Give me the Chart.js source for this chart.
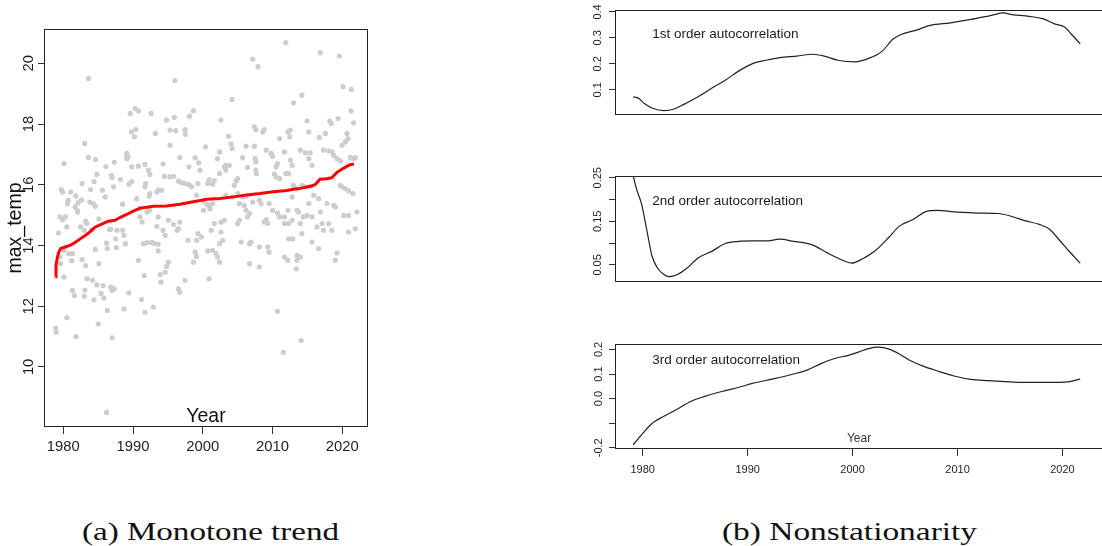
<!DOCTYPE html>
<html><head><meta charset="utf-8">
<script src="https://cdn.jsdelivr.net/npm/chart.js@4.4.1/dist/chart.umd.min.js"></script>
<style>
html,body{margin:0;padding:0;background:#fff;width:1102px;height:546px;overflow:hidden;position:relative;}
canvas{position:absolute;}
.cap{position:absolute;white-space:nowrap;font-family:"Liberation Serif","Times New Roman",serif;font-size:25px;line-height:30px;color:#111;transform-origin:0 50%;}
</style></head><body>
<canvas id="trend" width="380" height="470" style="left:0;top:0"></canvas>
<canvas id="ac1" width="560" height="125" style="left:560px;top:0"></canvas>
<canvas id="ac2" width="560" height="130" style="left:560px;top:160px"></canvas>
<canvas id="ac3" width="560" height="150" style="left:560px;top:335px"></canvas>
<div class="cap" id="capA" style="left:82px;top:517px">(a) Monotone trend</div>
<div class="cap" id="capB" style="left:722px;top:517px">(b) Nonstationarity</div>
<script>
// ---------- Panel (a): observations ----------
const obsYear = [
1983.6,1983.06,1983.6,1984.6,1980.1,1986.1,1987.3,1989.1,1989.1,1984.8,1982.7,1984.4,1986.9,1987.0,1988.2,1979.7,1979.9,1981.05,1981.8,1980.7,
1980.6,1982.1,1982.6,1983.9,1983.8,1984.3,1984.6,1986.0,1985.6,1987.2,1988.5,1982.0,1982.05,1979.5,1979.9,1980.3,1979.3,1980.5,1982.5,1983.2,
1983.4,1983.0,1984.1,1985.1,1986.6,1986.8,1987.7,1986.2,1987.5,1988.5,1988.7,1988.9,1984.6,1986.3,1987.6,1980.1,1980.8,1981.3,1979.5,1979.6,
1980.1,1982.7,1983.2,1985.1,1983.4,1984.2,1985.7,1986.8,1987.0,1987.3,1985.8,1981.3,1981.6,1983.0,1984.4,1986.3,1988.7,1980.5,1985.0,1978.9,
1979.0,1981.8,1987.0,1986.2,1981.7,1981.2,1983.1,1984.8,1985.4,
1996.0,1990.76,1990.3,1989.6,1992.6,1998.65,1998.1,1994.8,1995.9,1990.4,1989.8,1990.2,1993.2,1995.3,1996.1,1995.3,1997.45,1997.5,2000.4,1989.1,
1989.3,1989.8,1990.76,1991.7,1992.2,1992.4,1994.3,1996.7,1998.0,1998.9,1999.4,1999.6,1989.8,1989.4,1991.8,1991.7,1990.5,1993.6,1993.4,1994.1,
1992.4,1992.3,1994.5,1995.3,1995.8,1996.5,1997.0,1997.45,1998.0,1998.4,1999.1,1999.3,2000.1,2000.6,2000.1,1991.0,1991.0,1992.0,1992.2,1992.4,
1991.3,1993.6,1993.4,1995.06,1995.8,1996.3,1996.5,1996.7,1991.5,1992.0,1992.7,1993.1,1993.6,1994.3,1994.6,1997.9,1999.1,1999.3,1999.8,2000.7,
1998.9,1999.1,1998.65,1990.76,1993.6,1994.8,1995.06,1993.9,1994.0,1996.5,1996.7,1994.6,1997.45,1991.6,1989.4,1991.2,1991.7,1992.9,
2011.9,2007.15,2007.9,2004.2,2002.6,2007.4,2007.6,2008.8,2008.6,2011.0,2012.2,2003.7,2004.05,2004.2,2006.2,2007.4,2009.1,2009.8,2010.0,2011.7,
2002.4,2002.1,2005.7,2007.5,2007.6,2001.65,2001.4,2000.9,2000.7,2002.4,2003.1,2003.3,2003.8,2003.3,2005.0,2004.8,2004.5,2006.4,2007.6,2007.7,
2010.5,2010.7,2010.26,2010.5,2011.0,2011.9,2001.4,2000.9,2001.03,2003.3,2004.3,2005.0,2005.7,2006.2,2005.24,2005.95,2007.15,2006.2,2006.7,2006.4,
2008.1,2008.35,2009.5,2010.0,2010.7,2011.0,2011.7,2001.65,2002.6,2003.1,2005.0,2005.24,2008.8,2009.1,2009.3,2011.7,2012.2,2001.2,2002.6,2002.85,
2002.4,2005.5,2006.7,2006.9,2008.1,2009.3,2009.5,2001.4,2001.9,2002.1,2002.4,2006.7,2008.1,2011.7,2012.2,2000.9,2010.7,2011.55,
2016.85,2019.57,2020.1,2021.3,2014.2,2013.0,2021.25,2021.6,2014.94,2015.2,2018.2,2018.4,2019.4,2012.55,2012.45,2017.57,2016.7,2020.67,2020.8,2020.43,
2019.96,2012.55,2012.8,2012.3,2013.98,2014.7,2015.4,2015.2,2015.65,2017.3,2018.04,2018.5,2018.76,2019.24,2019.72,2021.15,2021.6,2021.87,2019.72,2019.96,
2020.43,2020.9,2021.5,2013.0,2013.5,2014.2,2014.7,2015.4,2015.9,2012.8,2013.5,2013.74,2015.2,2016.6,2017.8,2018.76,2019.0,2014.4,2014.94,2015.65,
2016.85,2018.04,2016.37,2017.1,2017.3,2018.5,2012.8,2012.3,2013.98,2014.2,2015.65,2020.2,2020.9,2020.9,2021.87,2012.3,2012.9,2016.6,2019.24,2019.0,
2013.5,2013.98,2013.5,2013.4,2022.1,2014.1
];
const obsTemp = [
19.5,17.36,16.9,16.83,16.7,16.6,16.74,17.0,16.86,16.34,16.04,16.1,16.31,16.24,16.17,15.84,15.76,15.76,15.63,15.49,
15.38,15.4,15.49,15.84,15.43,15.38,15.29,15.6,15.82,15.93,15.36,15.16,15.1,14.94,14.85,14.94,14.41,14.61,14.61,14.8,
14.72,14.5,14.52,14.88,14.53,14.53,14.5,14.08,14.22,14.5,14.33,14.06,13.87,13.9,13.93,13.84,13.73,13.73,13.62,13.4,
12.96,13.53,13.34,13.4,12.9,12.85,12.68,12.63,12.52,12.57,12.27,12.52,12.35,12.33,12.21,11.86,11.91,11.62,11.42,11.28,
11.14,11.0,10.96,8.5,15.27,13.5,12.53,12.7,12.42,
19.43,18.43,18.51,18.35,18.35,18.44,18.26,18.13,18.22,17.82,17.74,17.58,17.69,17.8,17.78,17.3,17.82,17.66,17.25,17.03,
16.92,16.59,16.61,16.67,16.48,16.34,16.68,16.89,16.59,16.89,16.72,16.48,16.1,16.02,16.04,15.93,15.54,15.82,15.76,15.82,
15.71,15.62,16.28,16.26,16.28,16.12,16.06,16.04,16.01,15.93,15.65,16.04,15.46,15.35,15.16,15.21,14.94,15.1,15.21,15.16,
14.77,14.94,14.63,14.83,14.69,14.5,14.55,14.77,14.06,14.09,14.1,14.06,14.04,14.5,14.33,14.17,14.17,14.39,14.28,13.82,
13.78,13.64,13.45,13.51,13.82,13.31,13.45,13.04,12.79,12.57,12.46,13.12,12.85,13.01,12.44,12.22,11.8,11.97,
20.68,20.13,19.89,18.81,18.13,17.91,17.82,17.82,17.74,17.52,17.74,17.6,17.34,17.19,17.27,17.27,17.14,17.03,16.94,17.08,
17.08,16.86,16.89,16.86,16.75,16.13,16.02,16.17,16.04,16.37,16.59,16.64,16.64,16.48,16.2,16.13,15.98,16.57,16.48,16.37,
16.59,16.7,16.35,16.26,16.2,16.37,15.38,15.32,15.21,15.65,15.6,15.71,15.6,15.62,15.38,15.32,15.43,15.16,15.05,14.94,
15.49,15.38,15.38,15.16,15.07,14.94,14.72,14.72,14.77,14.83,14.72,14.83,14.77,14.85,14.72,14.94,15.16,14.5,14.44,14.17,
14.06,14.11,14.06,14.11,13.95,13.95,13.78,13.84,13.73,13.62,13.45,13.4,13.29,13.62,13.51,12.9,11.83,10.48,
20.35,20.24,19.23,19.14,18.95,18.7,18.43,18.04,18.1,17.74,18.1,18.02,18.18,17.8,17.58,17.69,17.56,17.69,17.52,17.41,
17.3,16.81,16.64,16.37,17.14,17.05,17.05,16.86,16.64,17.14,17.12,17.08,16.97,16.86,16.79,16.9,16.86,16.89,15.98,15.93,
15.87,15.8,15.71,15.98,15.87,15.98,15.93,15.95,15.65,15.6,15.16,15.1,15.38,15.54,15.38,15.32,15.27,14.94,14.99,14.94,
15.1,14.72,14.61,14.72,14.5,14.5,14.83,14.72,14.72,14.39,14.11,14.99,14.99,14.44,14.55,14.22,14.22,13.9,13.75,13.51,
13.67,13.62,13.51,13.23,15.1,10.87
];
// monotone trend (red)
const trendYear = [1978.85,1978.95,1979.14,1979.33,1979.62,1980.24,1980.96,1981.67,1982.63,1983.59,1984.54,1985.5,1986.46,1987.41,1988.12,1989.08,1990.04,1990.99,1991.95,1992.9,1994.81,1996.73,1998.64,2000.55,2002.46,2004.37,2006.28,2008.2,2010.11,2012.02,2012.97,2013.93,2015.6,2016.08,2016.8,2017.75,2018.47,2019.19,2020.14,2021.1,2021.67];
const trendTemp = [12.97,13.35,13.6,13.77,13.9,13.95,14.0,14.1,14.25,14.4,14.6,14.7,14.8,14.83,14.92,15.02,15.13,15.23,15.26,15.29,15.3,15.36,15.44,15.52,15.55,15.6,15.66,15.71,15.77,15.81,15.85,15.88,15.96,16.0,16.18,16.2,16.23,16.4,16.54,16.66,16.68];
const yearTicks = [1980,1990,2000,2010,2020];
const tempTicks = [10,12,14,16,18,20];

// ---------- Panel (b): rolling autocorrelations ----------
const ac1Year = [1979.09,1979.58,1980.23,1980.88,1982.02,1982.99,1983.97,1985.27,1986.57,1987.87,1989.17,1990.47,1991.77,1993.07,1994.7,1996.16,1997.3,1998.6,2000.23,2001.53,2002.83,2003.8,2004.62,2006.08,2007.38,2009.33,2011.28,2013.24,2014.37,2015.19,2016.81,2018.11,2019.25,2020.23,2020.88,2021.69];
const ac1Value = [0.073,0.068,0.045,0.030,0.020,0.026,0.045,0.073,0.106,0.137,0.173,0.201,0.214,0.224,0.230,0.237,0.230,0.214,0.208,0.221,0.249,0.294,0.313,0.330,0.348,0.358,0.371,0.387,0.396,0.390,0.383,0.374,0.354,0.341,0.313,0.277];
const ac2Year = [1979.09,1979.41,1979.9,1980.23,1980.55,1980.88,1981.37,1982.02,1982.5,1983.32,1984.29,1985.27,1986.57,1987.87,1989.17,1990.47,1991.77,1993.07,1994.37,1996.16,1997.63,1998.93,1999.9,2000.88,2002.18,2003.48,2004.46,2005.76,2007.06,2008.03,2009.98,2011.93,2013.89,2015.19,2016.49,2017.79,2018.76,2019.74,2020.72,2021.69];
const ac2Value = [0.255,0.224,0.189,0.150,0.110,0.071,0.044,0.028,0.023,0.028,0.044,0.066,0.081,0.099,0.104,0.105,0.105,0.109,0.104,0.096,0.077,0.062,0.054,0.063,0.083,0.114,0.139,0.154,0.173,0.175,0.171,0.169,0.168,0.161,0.151,0.143,0.132,0.106,0.079,0.054];
const ac3Year = [1979.09,1979.41,1980.07,1980.88,1982.02,1983.32,1984.62,1985.92,1987.54,1989.17,1990.47,1992.42,1994.37,1995.67,1996.98,1998.28,1999.58,2000.55,2001.53,2002.34,2003.15,2004.13,2005.43,2006.73,2008.03,2009.66,2011.28,2012.91,2014.54,2016.16,2017.79,2019.41,2020.72,2021.69];
const ac3Value = [-0.188,-0.172,-0.138,-0.101,-0.072,-0.042,-0.011,0.009,0.029,0.046,0.062,0.080,0.100,0.116,0.142,0.163,0.176,0.189,0.203,0.209,0.205,0.189,0.156,0.132,0.113,0.092,0.078,0.073,0.069,0.066,0.066,0.066,0.069,0.080];
const ac1Ticks = [0.1,0.2,0.3,0.4];
const ac1Labelled = [0.1,0.2,0.3,0.4];
const ac2Ticks = [0.05,0.10,0.15,0.20,0.25];
const ac2Labelled = [0.05,0.15,0.25];
const ac3Ticks = [-0.2,-0.1,0.0,0.1,0.2];
const ac3Labelled = [-0.2,0.0,0.1,0.2];
const panelTitles = ['1st order autocorrelation','2nd order autocorrelation','3rd order autocorrelation'];

// ---------- helpers ----------
Chart.defaults.font.family = '"Liberation Sans", Arial, sans-serif';
const SANS = '"Liberation Sans", Arial, sans-serif';

const frameBox = {
  id: 'frameBox',
  afterDatasetsDraw(chart, args, opts) {
    const {ctx, chartArea: {left, top, right, bottom}} = chart;
    ctx.save();
    ctx.strokeStyle = opts.color || '#222';
    ctx.lineWidth = 1;
    const l = Math.round(left) + 0.5, t = Math.round(top) + 0.5;
    const r = Math.round(right) - 0.5, b = Math.round(bottom) - 0.5;
    ctx.strokeRect(l, t, r - l, b - t);
    ctx.restore();
  }
};
const panelLabel = {
  id: 'panelLabel',
  afterDatasetsDraw(chart, args, opts) {
    if (!opts || !opts.text) return;
    const ctx = chart.ctx;
    ctx.save();
    ctx.font = opts.size + 'px ' + SANS;
    ctx.fillStyle = opts.color || '#1a1a1a';
    ctx.textAlign = 'left';
    ctx.textBaseline = 'middle';
    ctx.fillText(opts.text, chart.scales.x.getPixelForValue(opts.x), chart.scales.y.getPixelForValue(opts.y));
    ctx.restore();
  }
};
const pts = (xs, ys) => xs.map((x, i) => ({x, y: ys[i]}));

// ---------- panel (a) ----------
new Chart(document.getElementById('trend'), {
  type: 'scatter',
  data: {datasets: [
    {data: pts(trendYear, trendTemp), showLine: true, borderColor: '#ff0000', borderWidth: 3, pointRadius: 0, tension: 0, fill: false},
    {data: pts(obsYear, obsTemp), showLine: false, pointRadius: 2.6, backgroundColor: '#cdcdcd', borderColor: '#cdcdcd', borderWidth: 0}
  ]},
  options: {
    responsive: false, animation: false, events: [],
    layout: {padding: {left: 0, top: 29, right: 12, bottom: 0}},
    plugins: {legend: {display: false}, tooltip: {enabled: false}, frameBox: {color: '#222'}},
    scales: {
      x: {
        type: 'linear', position: 'bottom', min: 1977.23, max: 2023.68,
        afterBuildTicks: s => { s.ticks = yearTicks.map(v => ({value: v})); },
        afterFit: s => { s.height = 43; },
        grid: {display: true, drawOnChartArea: false, drawTicks: true, tickLength: 7, color: '#333'},
        border: {display: false},
        ticks: {font: {size: 14.8}, color: '#1e1e1e', padding: 4, maxRotation: 0, autoSkip: false, callback: v => String(v)},
        title: {display: true, text: 'Year', font: {size: 19.5}, color: '#111', padding: {top: 0, bottom: 42}}
      },
      y: {
        type: 'linear', position: 'left', min: 8.02, max: 21.13,
        afterBuildTicks: s => { s.ticks = tempTicks.map(v => ({value: v})); },
        afterFit: s => { s.width = 44; },
        grid: {display: true, drawOnChartArea: false, drawTicks: true, tickLength: 6, color: '#333'},
        border: {display: false},
        ticks: {font: {size: 14.8}, color: '#1e1e1e', padding: 1, minRotation: 90, maxRotation: 90, crossAlign: 'center', autoSkip: false, callback: v => String(v)},
        title: {display: true, text: 'max_temp', font: {size: 19.5}, color: '#111', padding: {top: 4, bottom: 0}}
      }
    }
  },
  plugins: [frameBox]
});

// ---------- panel (b) ----------
function acChart(id, years, values, cfg) {
  new Chart(document.getElementById(id), {
    type: 'scatter',
    data: {datasets: [
      {data: pts(years, values), showLine: true, borderColor: '#222', borderWidth: 1.2, pointRadius: 0, cubicInterpolationMode: 'monotone', fill: false}
    ]},
    options: {
      responsive: false, animation: false, events: [],
      layout: {padding: {left: 0, top: cfg.padTop, right: 17, bottom: cfg.padBottom}},
      plugins: {legend: {display: false}, tooltip: {enabled: false}, frameBox: {color: '#222'},
        panelLabel: {text: cfg.label, x: 1980.9, y: cfg.labelY, size: 13.5, color: '#1a1a1a'}},
      scales: {
        x: {
          type: 'linear', position: 'bottom', min: 1977.36, max: 2023.86, display: cfg.showX,
          afterBuildTicks: s => { s.ticks = yearTicks.map(v => ({value: v})); },
          afterFit: s => { s.height = cfg.showX ? 36 : 0; },
          grid: {display: true, drawOnChartArea: false, drawTicks: true, tickLength: 7, color: '#333'},
          border: {display: false},
          ticks: {font: {size: 11}, color: '#1e1e1e', padding: 7, maxRotation: 0, autoSkip: false, callback: v => String(v)},
          title: {display: cfg.showX, text: 'Year', font: {size: 12}, color: '#333', padding: {top: 0, bottom: 39}}
        },
        y: {
          type: 'linear', position: 'left', min: cfg.min, max: cfg.max,
          afterBuildTicks: s => { s.ticks = cfg.ticks.map(v => ({value: v})); },
          afterFit: s => { s.width = 55; },
          grid: {display: true, drawOnChartArea: false, drawTicks: true, tickLength: 6, color: '#333'},
          border: {display: false},
          ticks: {font: {size: 11}, color: '#1e1e1e', padding: cfg.tickPad, minRotation: 90, maxRotation: 90, crossAlign: 'center', autoSkip: false,
            callback: v => cfg.labelled.some(l => Math.abs(l - v) < 1e-9) ? v.toFixed(cfg.digits) : ''}
        }
      }
    },
    plugins: [frameBox, panelLabel]
  });
}
acChart('ac1', ac1Year, ac1Value, {padTop: 8, padBottom: 10, showX: false, min: 0.003, max: 0.409, ticks: ac1Ticks, labelled: ac1Labelled, digits: 1, tickPad: 3, label: panelTitles[0], labelY: 0.313});
acChart('ac2', ac2Year, ac2Value, {padTop: 16, padBottom: 8, showX: false, min: 0.0108, max: 0.254, ticks: ac2Ticks, labelled: ac2Labelled, digits: 2, tickPad: 0, label: panelTitles[1], labelY: 0.195});
acChart('ac3', ac3Year, ac3Value, {padTop: 9, padBottom: 0, showX: true, min: -0.205, max: 0.222, ticks: ac3Ticks, labelled: ac3Labelled, digits: 1, tickPad: 1, label: panelTitles[2], labelY: 0.156});

// captions
[['capA', 257], ['capB', 255]].forEach(([id, w]) => {
  const el = document.getElementById(id);
  const nat = el.getBoundingClientRect().width;
  el.style.transform = 'scaleX(' + (w / nat) + ')';
});
</script>
</body></html>
